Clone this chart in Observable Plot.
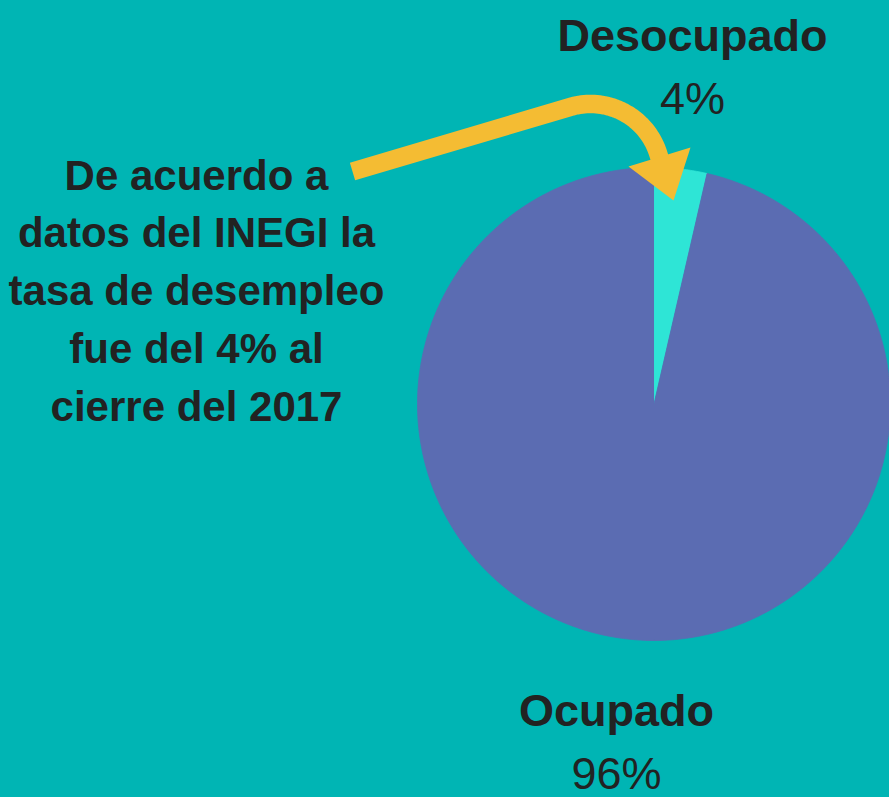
<!DOCTYPE html>
<html><head><meta charset="utf-8">
<script src="https://cdn.jsdelivr.net/npm/d3@7"></script>
<script src="https://cdn.jsdelivr.net/npm/@observablehq/plot@0.6"></script>
<style>html,body{margin:0;padding:0;background:#00B5B4;overflow:hidden}#chart svg{display:block}</style>
</head><body><div id="chart"></div>
<script>
// ---- data ----
const categories = ["Desocupado", "Ocupado"];
const values = [3.6, 96.4];
const valueLabels = ["4%", "96%"];
const sliceColors = ["#2EE5D6", "#5B6CB2"];
const noteLines = ["De acuerdo a", "datos del INEGI la", "tasa de desempleo", "fue del 4% al", "cierre del 2017"];

// ---- layout ----
const W = 889, H = 797;
const cx = 653.5, cy = 403.5, R = 236.5;
const labelPos = [{x: 692, yName: 50, yPct: 113}, {x: 616, yName: 725, yPct: 788}];
const textColor = "#222222";
const arrowColor = "#F4BC33";
const font = "'Liberation Sans', Arial, sans-serif";

// pie geometry from values
const arcs = d3.pie().sort(null)(values);
const slicePts = [];
arcs.forEach((a, i) => {
  const n = Math.max(8, Math.ceil((a.endAngle - a.startAngle) * 180 / Math.PI * 2));
  slicePts.push({cat: categories[i], x: cx, y: cy});
  for (let k = 0; k <= n; k++) {
    const t = a.startAngle + (a.endAngle - a.startAngle) * k / n;
    slicePts.push({cat: categories[i], x: cx + R * Math.sin(t), y: cy - R * Math.cos(t)});
  }
});

// labels
const labels = categories.map((c, i) => ({name: c, pct: valueLabels[i], ...labelPos[i]}));

// arrow annotation (decoration)
const ac = {x: 590, y: 174.5, r: 71};
const arrowPts = [{x: 352, y: 171}];
for (let d = -17; d <= 73; d += 2) {
  const t = d * Math.PI / 180;
  arrowPts.push({x: ac.x + ac.r * Math.sin(t), y: ac.y - ac.r * Math.cos(t)});
}
arrowPts.push({x: 661, y: 163.5});
const headPts = [{x: 628, y: 166}, {x: 690, y: 147}, {x: 673, y: 200}];

const chart = Plot.plot({
  width: W, height: H,
  margin: 0,
  x: {domain: [0, W], range: [0, W], axis: null},
  y: {domain: [0, H], range: [0, H], axis: null},
  color: {domain: categories, range: sliceColors},
  style: {background: "#00B5B4", fontFamily: font},
  marks: [
    Plot.line(slicePts, {x: "x", y: "y", z: "cat", fill: "cat", stroke: "cat", strokeWidth: 0.8}),
    Plot.line(arrowPts, {x: "x", y: "y", stroke: arrowColor, strokeWidth: 18.5, strokeLinecap: "butt", strokeLinejoin: "round"}),
    Plot.line(headPts, {x: "x", y: "y", fill: arrowColor, stroke: "none"}),
    Plot.text(labels, {x: "x", y: "yName", text: "name", fontSize: 45, fontWeight: "bold", fill: textColor, lineAnchor: "bottom", textAnchor: "middle"}),
    Plot.text(labels, {x: "x", y: "yPct", text: "pct", fontSize: 45, fill: textColor, lineAnchor: "bottom", textAnchor: "middle"}),
    Plot.text([noteLines.join("\n")], {x: 196, y: 420, text: d => d, fontSize: 42, fontWeight: "bold", fill: textColor, lineAnchor: "bottom", textAnchor: "middle", lineHeight: 1.374})
  ]
});
document.getElementById("chart").appendChild(chart);
</script>
</body></html>
